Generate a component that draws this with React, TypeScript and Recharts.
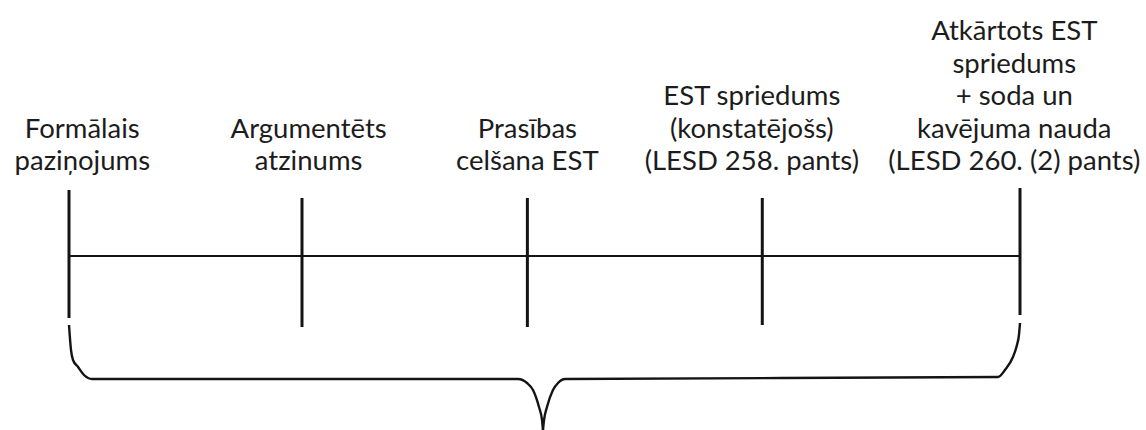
import { ComposedChart, Line, Scatter, XAxis, YAxis, ReferenceLine } from 'recharts'

// Timeline events: position along the line (0 = first event, 100 = last event)
const eventPos = [0, 24.5, 48.2, 72.9, 100]
// label centre positions on the same scale
const labelPos = [1.4, 25.2, 48.2, 71.8, 99.4]
const eventLabels = [
  ['Formālais', 'paziņojums'],
  ['Argumentēts', 'atzinums'],
  ['Prasības', 'celšana EST'],
  ['EST spriedums', '(konstatējošs)', '(LESD 258. pants)'],
  ['Atkārtots EST', 'spriedums', '+ soda un', 'kavējuma nauda', '(LESD 260. (2) pants)'],
]
// tick extents above (+) and below (-) the timeline
const tickTop = [66, 58, 58, 58, 68]
const tickBottom = [-62, -71, -71, -69, -59]
const labelBaseline = 86

// curly brace under the timeline (left and right halves)
const braceLeft = [
  { x: 0, y: -69 },
  { x: 0.21, y: -94 },
  { x: 0.42, y: -104 },
  { x: 0.95, y: -111 },
  { x: 1.58, y: -119 },
  { x: 2.42, y: -123 },
  { x: 47.21, y: -123 },
  { x: 48.16, y: -127 },
  { x: 48.79, y: -134 },
  { x: 49.42, y: -151 },
  { x: 49.74, y: -164 },
  { x: 49.84, y: -174 },
]
const braceRight = [
  { x: 49.84, y: -174 },
  { x: 49.95, y: -164 },
  { x: 50.26, y: -151 },
  { x: 50.89, y: -134 },
  { x: 51.42, y: -127 },
  { x: 52.16, y: -123 },
  { x: 97.69, y: -121 },
  { x: 98.42, y: -114 },
  { x: 99.26, y: -101 },
  { x: 99.68, y: -89 },
  { x: 99.89, y: -79 },
  { x: 100, y: -67 },
]

const timeline = [
  { x: eventPos[0], y: 0 },
  { x: eventPos[eventPos.length - 1], y: 0 },
]

const labelData = eventLabels.map((lines, i) => ({ x: labelPos[i], y: labelBaseline, lines }))

const INK = '#141414'
const LINE_H = 32.5

const LabelShape = (props: any) => {
  const { cx, cy, payload } = props
  const lines: string[] = payload.lines
  return (
    <text
      x={cx}
      y={cy}
      textAnchor="middle"
      fontFamily="Lato, 'Open Sans', sans-serif"
      fontSize={27.5}
      fill="#1c1c1c"
    >
      {lines.map((l, i) => (
        <tspan key={i} x={cx} y={cy - (lines.length - 1 - i) * LINE_H}>
          {l}
        </tspan>
      ))}
    </text>
  )
}

export default function App() {
  return (
    <div style={{ position: 'absolute', left: 0, top: 0, width: 1146, height: 430, background: '#fff' }}>
      <ComposedChart width={1146} height={430} margin={{ top: 0, right: 126, bottom: 0, left: 69 }}>
        <XAxis dataKey="x" type="number" domain={[0, 100]} hide />
        <YAxis dataKey="y" type="number" domain={[-174, 256]} hide />

        {/* main timeline */}
        <Line data={timeline} dataKey="y" stroke={INK} strokeWidth={2.2} dot={false} isAnimationActive={false} />

        {/* event ticks */}
        {eventPos.map((x, i) => (
          <ReferenceLine
            key={i}
            segment={[{ x, y: tickTop[i] }, { x, y: tickBottom[i] }]}
            stroke={INK}
            strokeWidth={3}
            ifOverflow="visible"
          />
        ))}

        {/* brace */}
        <Line data={braceLeft} dataKey="y" type="monotone" stroke={INK} strokeWidth={2.4} dot={false} isAnimationActive={false} />
        <Line data={braceRight} dataKey="y" type="monotone" stroke={INK} strokeWidth={2.4} dot={false} isAnimationActive={false} />

        {/* labels */}
        <Scatter data={labelData} dataKey="y" shape={LabelShape} isAnimationActive={false} />
      </ComposedChart>
    </div>
  )
}
